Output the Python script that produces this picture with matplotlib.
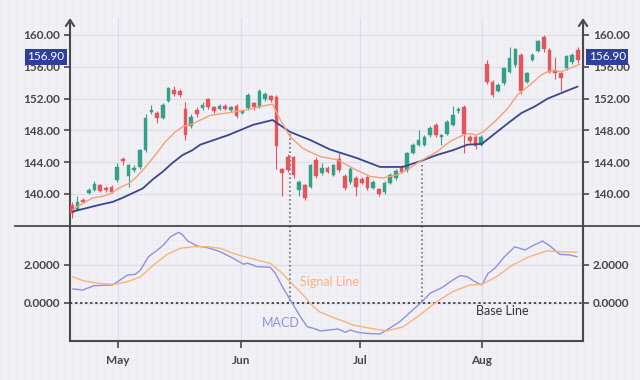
import numpy as np
import matplotlib
matplotlib.use('Agg')
import matplotlib.pyplot as plt
from matplotlib.lines import Line2D
from matplotlib.patches import Rectangle

plt.rcParams['font.family'] = ['Lato', 'DejaVu Sans']

# candles, one per trading day (index 0..89)
opens = [138.6, 138.0, 139.3, 140.1, 140.5, 141.1, 140.8, 140.9, 141.7, 144.4,
         142.2, 143.0, 143.4, 145.5, 150.3, 150.2, 149.5, 151.7, 153.1, 153.0,
         150.7, 148.5, 150.6, 150.8, 151.9, 150.9, 150.7, 151.1, 150.5, 151.1,
         150.2, 150.8, 151.4, 151.0, 151.9, 152.3, 152.2, 143.1, 144.7, 144.6,
         140.5, 141.1, 140.9, 144.3, 142.6, 143.3, 142.4, 144.4, 142.3, 141.5,
         142.0, 141.9, 142.1, 140.8, 140.6, 140.2, 141.4, 142.0, 143.4, 143.0,
         145.2, 146.2, 146.2, 147.4, 148.7, 147.2, 147.6, 148.7, 150.4, 151.0,
         147.2, 147.2, 146.2, 156.3, 154.1, 153.0, 153.9, 155.4, 156.2, 157.5,
         154.1, 156.9, 158.0, 159.8, 158.1, 155.5, 155.2, 155.8, 156.6, 158.1]
highs = [139.0, 139.8, 139.5, 140.7, 141.6, 141.3, 141.0, 141.1, 143.9, 144.7,
         143.8, 143.6, 145.7, 150.0, 151.2, 150.4, 151.4, 153.5, 153.6, 153.2,
         151.6, 150.0, 150.9, 151.6, 152.1, 151.1, 151.3, 151.3, 151.1, 151.3,
         150.6, 152.7, 151.6, 153.2, 152.8, 152.5, 152.4, 143.3, 145.0, 144.8,
         141.7, 141.3, 143.8, 144.6, 143.9, 143.5, 143.8, 145.2, 142.5, 143.4,
         142.2, 142.1, 142.3, 141.7, 140.8, 141.6, 142.6, 143.1, 143.6, 145.3,
         146.4, 148.0, 147.4, 148.5, 148.9, 147.6, 149.3, 151.1, 150.9, 151.2,
         147.4, 147.4, 147.4, 156.9, 154.3, 153.9, 156.0, 158.5, 158.4, 157.7,
         155.4, 157.7, 159.4, 160.0, 158.3, 157.2, 155.4, 157.5, 157.7, 158.5]
lows = [137.0, 137.8, 138.8, 140.0, 140.4, 140.2, 140.3, 140.1, 141.5, 143.6,
        140.9, 142.7, 143.2, 145.3, 150.0, 148.9, 149.4, 151.6, 152.3, 152.2,
        146.8, 148.3, 149.7, 150.5, 150.7, 150.2, 150.5, 150.5, 150.3, 149.6,
        150.0, 150.6, 150.5, 150.8, 151.7, 151.6, 143.2, 139.7, 142.7, 142.0,
        139.7, 139.2, 140.7, 142.0, 142.4, 142.6, 142.2, 142.8, 140.5, 141.3,
        139.7, 141.2, 140.5, 140.6, 139.8, 140.0, 141.2, 141.8, 142.6, 142.8,
        145.0, 146.0, 146.0, 147.2, 147.2, 146.2, 147.4, 148.5, 150.2, 145.1,
        146.4, 145.6, 146.0, 153.8, 152.2, 152.8, 153.7, 155.2, 156.0, 152.6,
        153.9, 156.7, 157.8, 157.9, 155.2, 154.5, 152.9, 155.6, 156.4, 156.5]
closes = [137.6, 139.0, 139.0, 140.5, 141.3, 140.4, 140.5, 140.3, 143.4, 144.1,
          143.6, 143.3, 145.5, 149.5, 150.6, 149.6, 151.2, 153.3, 152.6, 152.5,
          147.4, 149.7, 150.0, 151.2, 150.9, 150.4, 151.1, 150.7, 150.9, 149.8,
          150.4, 152.5, 150.9, 152.9, 152.6, 151.8, 146.0, 142.6, 143.0, 142.4,
          141.5, 139.5, 143.6, 142.2, 143.3, 142.8, 143.6, 143.0, 140.7, 143.2,
          140.9, 141.4, 140.7, 141.5, 140.0, 141.4, 142.4, 142.9, 142.8, 145.1,
          146.2, 146.8, 147.2, 148.3, 147.4, 147.4, 149.1, 149.9, 150.7, 147.6,
          146.6, 146.0, 147.2, 154.1, 152.5, 153.7, 155.8, 157.1, 158.2, 152.9,
          155.2, 157.5, 159.2, 158.2, 155.4, 155.2, 154.6, 157.3, 157.5, 156.9]
last_price = 156.90

# moving averages (x in trading-day index)
fast_x = [0.2, 1.9, 3.7, 5.4, 6.8, 8.2, 10.0, 11.2, 13.0, 14.7, 16.5, 18.2, 19.6,
          21.2, 22.6, 24.4, 27.4, 30.9, 33.2, 35.3, 36.7, 38.4, 40.7, 43.7, 46.7,
          49.5, 52.5, 54.7, 57.2, 58.9, 61.2, 64.2, 66.5, 68.8, 70.0, 71.1, 72.3,
          74.4, 76.7, 78.4, 80.2, 82.6, 84.4, 86.1, 87.9, 89.3]
fast_ma = [138.0, 138.8, 139.5, 139.7, 140.0, 140.7, 141.3, 142.0, 143.4, 144.9,
           146.6, 147.8, 148.5, 148.8, 149.3, 149.9, 150.2, 150.6, 151.0, 151.3,
           149.3, 147.2, 145.7, 144.7, 144.3, 143.2, 142.2, 142.0, 142.4, 143.0,
           144.1, 145.3, 146.6, 147.4, 147.6, 147.4, 147.8, 149.1, 150.8, 152.5,
           153.5, 155.0, 155.6, 155.4, 155.9, 156.3]
slow_x = [0.2, 2.5, 4.7, 7.2, 8.9, 10.7, 12.5, 14.2, 16.0, 17.7, 19.5, 21.2, 22.6,
          27.5, 31.9, 35.3, 38.4, 41.9, 45.4, 50.2, 54.2, 58.2, 61.2, 64.2, 67.0,
          69.6, 72.1, 74.4, 76.7, 79.1, 81.4, 83.7, 86.1, 88.9]
slow_ma = [137.8, 138.2, 138.6, 139.0, 139.5, 140.1, 140.7, 141.8, 142.8, 143.9,
           144.9, 145.5, 146.2, 147.4, 148.7, 149.3, 147.8, 146.8, 145.6, 144.5,
           143.4, 143.4, 144.1, 144.9, 145.5, 146.2, 146.3, 147.6, 148.9, 150.2,
           151.0, 152.0, 152.7, 153.5]

# MACD panel
macd_x = [0.2, 1.9, 3.9, 7.2, 9.8, 11.2, 12.1, 13.5, 15.1, 16.1, 17.4, 18.8, 19.5,
          20.4, 22.1, 23.9, 26.1, 28.4, 30.2, 30.9, 32.6, 34.9, 35.8, 37.2, 38.8,
          40.2, 41.4, 42.5, 43.7, 46.8, 48.1, 49.0, 50.2, 51.9, 54.2, 55.4, 57.7,
          59.5, 61.6, 63.0, 65.1, 67.0, 68.3, 69.5, 70.9, 72.1, 73.2, 74.4, 76.1,
          77.9, 79.7, 81.1, 82.8, 84.0, 85.8, 87.5, 88.8]
macd = [0.74, 0.68, 0.91, 0.95, 1.47, 1.51, 1.74, 2.44, 2.79, 3.05, 3.49, 3.72, 3.58,
        3.26, 3.0, 2.91, 2.7, 2.35, 2.04, 2.1, 1.91, 1.88, 1.56, 0.77, -0.02,
        -0.72, -1.25, -1.33, -1.47, -1.37, -1.54, -1.42, -1.54, -1.6, -1.63, -1.42, -0.98,
        -0.49, 0.07, 0.51, 0.81, 1.21, 1.44, 1.39, 1.12, 0.95, 1.56, 1.83, 2.44,
        2.96, 2.79, 3.02, 3.26, 3.02, 2.56, 2.53, 2.44]
signal_x = [0.2, 2.1, 4.6, 7.4, 9.8, 12.1, 14.4, 16.8, 19.1, 21.4, 23.9, 26.1, 28.4,
            31.4, 34.9, 36.7, 38.4, 40.7, 42.5, 43.7, 46.7, 49.5, 52.5, 55.4, 58.3,
            61.2, 64.2, 67.0, 70.0, 72.1, 74.7, 77.5, 80.5, 83.5, 85.8, 88.8]
signal = [1.38, 1.16, 1.04, 0.98, 1.12, 1.38, 2.0, 2.56, 2.88, 2.96, 2.96, 2.88, 2.61,
          2.35, 2.09, 1.65, 1.12, 0.42, -0.19, -0.49, -0.84, -1.16, -1.33, -1.47, -1.25,
          -0.63, 0.07, 0.6, 0.95, 0.98, 1.38, 2.0, 2.44, 2.74, 2.7, 2.67]

month_pos = [8.1, 29.8, 50.7, 72.1]
month_labels = ['May', 'Jun', 'Jul', 'Aug']
price_ticks = [140, 144, 148, 152, 156, 160]
macd_ticks = [0, 2]
cross_x = [38.4, 61.6]
cross_price = [147.5, 143.7]

GREEN = '#35a088'
RED = '#e2575c'
FAST = '#f2a276'
SLOW = '#3b4788'
MACD_C = '#8c93dc'
SIG_C = '#f7b47e'
AXC = '#4a4a4a'
TXT = '#474747'
BG = '#f1f0f5'

fig = plt.figure(figsize=(6.4, 3.8), dpi=100, facecolor=BG)

# faint graph paper background
bg = fig.add_axes([0, 0, 1, 1], zorder=-5)
bg.set_xlim(0, 640)
bg.set_ylim(380, 0)
bg.set_facecolor(BG)
for v in np.arange(0, 641, 8):
    bg.axvline(v, color='#eae9f0', lw=0.4)
for v in np.arange(0, 381, 8):
    bg.axhline(v, color='#eae9f0', lw=0.4)
bg.axis('off')

ax = fig.add_axes([0.1094, 0.4053, 0.8016, 0.5474])
ax2 = fig.add_axes([0.1094, 0.1026, 0.8016, 0.3026])
for a in (ax, ax2):
    a.set_facecolor('none')
    a.set_xlim(-0.3, 89.9)
    a.set_xticks(month_pos)
    a.grid(True, color='#dfdee6', lw=0.9)
    a.set_axisbelow(True)
    for s in ('left', 'right'):
        a.spines[s].set_color(AXC)
        a.spines[s].set_linewidth(1.5)
    a.spines['top'].set_visible(False)
    a.tick_params(axis='y', which='both', left=True, right=True, labelleft=True,
                  labelright=True, direction='out', length=4, width=1.2, color=AXC,
                  labelsize=8.5, labelcolor=TXT, pad=3)

# candles
for i in range(len(opens)):
    o, h, l, c = opens[i], highs[i], lows[i], closes[i]
    col = GREEN if c >= o else RED
    ax.plot([i, i], [l, h], color=col, lw=0.8, zorder=3, solid_capstyle='butt')
    ax.add_patch(Rectangle((i - 0.32, min(o, c)), 0.64, max(abs(c - o), 0.12),
                           facecolor=col, edgecolor=col, lw=0.3, zorder=4))

ax.plot(slow_x, slow_ma, color=SLOW, lw=1.3, zorder=5)
ax.plot(fast_x, fast_ma, color=FAST, lw=1.0, zorder=5)

ax.set_ylim(135.97, 162.14)
ax.set_yticks(price_ticks)
ax.set_yticklabels([f'{t:.2f}' for t in price_ticks])
ax.spines['bottom'].set_visible(False)
ax.tick_params(axis='x', bottom=False, labelbottom=False)

for lbl_x, ha in ((0, 'right'), (1, 'left')):
    ax.annotate(f'{last_price:.2f}', xy=(lbl_x, last_price), xycoords=('axes fraction', 'data'),
                xytext=(-4 if ha == 'right' else 4, 2), textcoords='offset points',
                ha=ha, va='center', color='white', fontsize=8.5,
                bbox=dict(boxstyle='square,pad=0.22', fc='#2f3f9c', ec='none'), zorder=10)

# arrow heads on the price axes
for fx in (0, 1):
    ax.annotate('', xy=(fx, 1.0), xytext=(fx, 0.95), xycoords='axes fraction',
                arrowprops=dict(arrowstyle='->,head_length=0.45,head_width=0.3',
                                color=AXC, lw=1.5, shrinkA=0, shrinkB=0))
    ax.spines['left' if fx == 0 else 'right'].set_bounds(135.97, 161.5)

# MACD panel
ax2.plot(macd_x, macd, color=MACD_C, lw=1.0, zorder=4)
ax2.plot(signal_x, signal, color=SIG_C, lw=1.0, zorder=4)
ax2.axhline(0, color='#222222', lw=1.1, ls=(0, (1.5, 1.8)), zorder=3)
ax2.set_ylim(-2.0, 4.05)
ax2.set_yticks(macd_ticks)
ax2.set_yticklabels([f'{t:.4f}' for t in macd_ticks])
ax2.spines['bottom'].set_color(AXC)
ax2.spines['bottom'].set_linewidth(1.5)
ax2.set_xticklabels(month_labels)
ax2.tick_params(axis='x', direction='out', length=5, width=1.2, color=AXC,
                labelsize=8.5, labelcolor=TXT, pad=5)
for lab in ax.get_yticklabels() + ax2.get_yticklabels() + ax2.get_xticklabels():
    lab.set_fontweight('bold')

ax2.text(40.2, 1.1, 'Signal Line', color=SIG_C, fontsize=9, va='center')
ax2.text(33.5, -1.05, 'MACD', color=MACD_C, fontsize=9, va='center')
ax2.text(71.0, -0.42, 'Base Line', color='#333333', fontsize=9, va='center')

# crossover guides
for cx, cp in zip(cross_x, cross_price):
    ax.plot([cx, cx], [cp, 135.97], color='#6f6f6f', lw=1.2, ls=(0, (1.0, 1.6)), zorder=2)
    ax2.plot([cx, cx], [4.05, 0], color='#6f6f6f', lw=1.2, ls=(0, (1.0, 1.6)), zorder=2)

# panel separator across the figure
fig.add_artist(Line2D([0.023, 1.0], [0.4053, 0.4053], color=AXC, lw=1.3))

fig.savefig('out.png', dpi=100, facecolor=BG)
